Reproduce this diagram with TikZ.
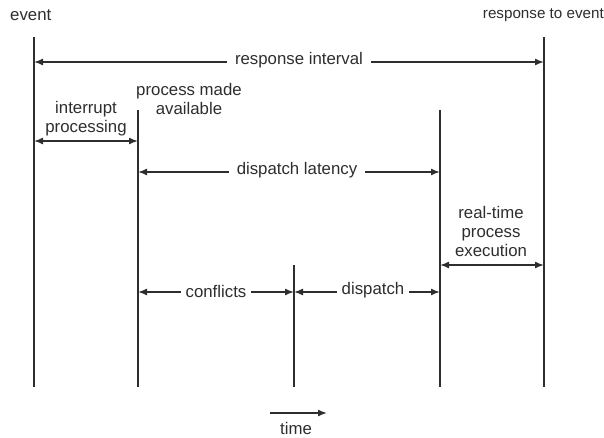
\documentclass[tikz,border=0pt]{standalone}
\usepackage{fontspec}
\setmainfont{Liberation Sans}
\usetikzlibrary{arrows.meta}
\definecolor{ink}{HTML}{2E2E2E}
\begin{document}
\begin{tikzpicture}[x=1pt,y=-1pt,
  every node/.style={text=ink,font=\fontsize{16.8}{19}\selectfont},
  timeline/.style={draw=ink,line width=1.5pt},
  span/.style={draw=ink,line width=1.5pt,{Latex[length=9pt,width=7pt]}-{Latex[length=9pt,width=7pt]}},
  onearrow/.style={draw=ink,line width=1.5pt,-{Latex[length=9pt,width=7pt]}},
  spanlabel/.style={fill=white,inner xsep=8pt,inner ysep=1pt},
  note/.style={align=center,inner sep=0pt}]
\useasboundingbox (0,0) rectangle (604,437);
\fill[white] (0,0) rectangle (604,437);

% time marks (top and bottom of each vertical line)
\coordinate (evT) at (34,37);   \coordinate (evB) at (34,387);
\coordinate (paT) at (138,110); \coordinate (paB) at (138,387);
\coordinate (cdT) at (294,265); \coordinate (cdB) at (294,387);
\coordinate (dsT) at (440,110); \coordinate (dsB) at (440,387);
\coordinate (reT) at (544,37);  \coordinate (reB) at (544,387);

\draw[timeline] (evT) -- (evB);
\draw[timeline] (paT) -- (paB);
\draw[timeline] (cdT) -- (cdB);
\draw[timeline] (dsT) -- (dsB);
\draw[timeline] (reT) -- (reB);

% headings
\node[anchor=west,inner sep=0pt] (event) at (10,15) {event};
\node[anchor=east,inner sep=0pt,font=\fontsize{15.2}{18}\selectfont] (response) at (604,15) {response to event};

% response interval
\coordinate (ri1) at (34,62);  \coordinate (ri2) at (544,62);
\draw[span] (ri1) -- (ri2);
\node[spanlabel] (riL) at (299,60) {response interval};

% interrupt processing
\node[note] (ipL) at (86,119) {interrupt\\processing};
\node[note] (pmL) at (189,99) {process made\\available};
\coordinate (ip1) at (34,141); \coordinate (ip2) at (138,141);
\draw[span] (ip1) -- (ip2);

% dispatch latency
\coordinate (dl1) at (138,172); \coordinate (dl2) at (440,172);
\draw[span] (dl1) -- (dl2);
\node[spanlabel] (dlL) at (297,170) {dispatch latency};

% real-time process execution
\node[note] (rtL) at (491,231) {real-time\\process\\execution};
\coordinate (rt1) at (440,265); \coordinate (rt2) at (544,265);
\draw[span] (rt1) -- (rt2);

% conflicts and dispatch
\coordinate (cf1) at (138,292); \coordinate (cf2) at (294,292);
\coordinate (dp2) at (440,292);
\draw[span] (cf1) -- (cf2);
\draw[span] (cf2) -- (dp2);
\node[spanlabel,inner xsep=5pt] (cfL) at (216,291) {conflicts};
\node[spanlabel,inner xsep=5pt] (dpL) at (373,290) {dispatch};

% time direction
\coordinate (t1) at (270,413); \coordinate (t2) at (327,413);
\draw[onearrow] (t1) -- (t2);
\node[inner sep=0pt] (timeL) at (296,428) {time};
\end{tikzpicture}
\end{document}
